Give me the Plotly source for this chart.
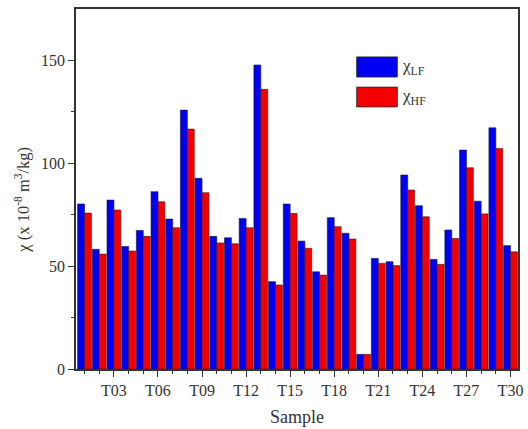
import plotly.graph_objects as go

samples = [f"T{i:02d}" for i in range(1, 31)]
chi_lf = [80.1, 58.1, 82.0, 59.5, 67.3, 86.1, 72.8, 125.7, 92.6, 64.4,
          63.7, 73.1, 147.6, 42.4, 80.1, 62.1, 47.2, 73.5, 65.9, 7.1,
          53.7, 52.1, 94.2, 79.3, 53.2, 67.5, 106.3, 81.5, 117.1, 59.9]
chi_hf = [75.7, 55.8, 77.2, 57.3, 64.4, 81.2, 68.6, 116.5, 85.6, 61.2,
          60.8, 68.6, 135.8, 40.8, 75.5, 58.6, 45.6, 69.1, 63.1, 7.1,
          51.3, 50.2, 86.9, 73.9, 50.8, 63.4, 97.7, 75.3, 107.1, 56.9]
tick_idx = list(range(3, 31, 3))
tick_labels = [f"T{i:02d}" for i in tick_idx]
x = list(range(1, 31))

FONT = "Liberation Serif"
fig = go.Figure()
fig.add_trace(go.Bar(x=x, y=chi_lf, name="χ<sub>LF</sub>", marker=dict(color="#0000F5", line=dict(color="#101040", width=0.6)), showlegend=False, hovertext=samples))
fig.add_trace(go.Bar(x=x, y=chi_hf, name="χ<sub>HF</sub>", marker=dict(color="#F50000", line=dict(color="#401010", width=0.6)), showlegend=False, hovertext=samples))

fig.update_layout(
    width=528, height=429,
    margin=dict(l=76, r=5, t=9, b=60),
    barmode="group", bargap=0.06, bargroupgap=0,
    plot_bgcolor="white", paper_bgcolor="white",
    font=dict(family=FONT, size=16, color="#333333"),
    xaxis=dict(range=[0.42, 30.51], tickmode="array", tickvals=tick_idx, ticktext=tick_labels,
               ticks="outside", ticklen=6, tickwidth=1.2, tickcolor="#333",
               minor=dict(ticks="outside", ticklen=3, dtick=1, tick0=0, tickcolor="#333"),
               showline=True, linecolor="#333", linewidth=1.5, mirror=True, showgrid=False, zeroline=False,
               title=dict(text="Sample", font=dict(size=18, family=FONT), standoff=12),
               tickfont=dict(size=16, family=FONT)),
    yaxis=dict(range=[0, 174.8], tickvals=[0, 50, 100, 150], ticks="outside", ticklen=6, tickwidth=1.2, tickcolor="#333",
               minor=dict(ticks="outside", ticklen=3, dtick=25, tickcolor="#333"),
               showline=True, linecolor="#333", linewidth=1.5, mirror=True, showgrid=False, zeroline=False,
               tickfont=dict(size=16, family=FONT)),
)

# y-axis title placed as annotation to match reference's vertical offset
fig.add_annotation(xref="paper", yref="paper", x=-0.121, y=0.469, textangle=-90, showarrow=False,
                   text="χ (x 10<sup>-8</sup> m<sup>3</sup>/kg)", xanchor="center", yanchor="middle",
                   font=dict(size=16.5, family=FONT, color="#333"))

# legend swatches (decoration)
for (y0, y1, col, lab) in [(0.811, 0.867, "#0000F5", "χ<sub>LF</sub>"), (0.728, 0.783, "#F50000", "χ<sub>HF</sub>")]:
    fig.add_shape(type="rect", xref="paper", yref="paper", x0=0.635, x1=0.727, y0=y0, y1=y1,
                  fillcolor=col, line=dict(color="#222", width=0.8))
    fig.add_annotation(xref="paper", yref="paper", x=0.733, y=(y0 + y1) / 2, text=lab, showarrow=False,
                       xanchor="left", yanchor="middle", font=dict(family=FONT, size=17, color="#333"))

fig.write_html("out.html", config={"displayModeBar": False},
               post_script="document.body.style.margin='0';document.body.style.overflow='hidden';")
